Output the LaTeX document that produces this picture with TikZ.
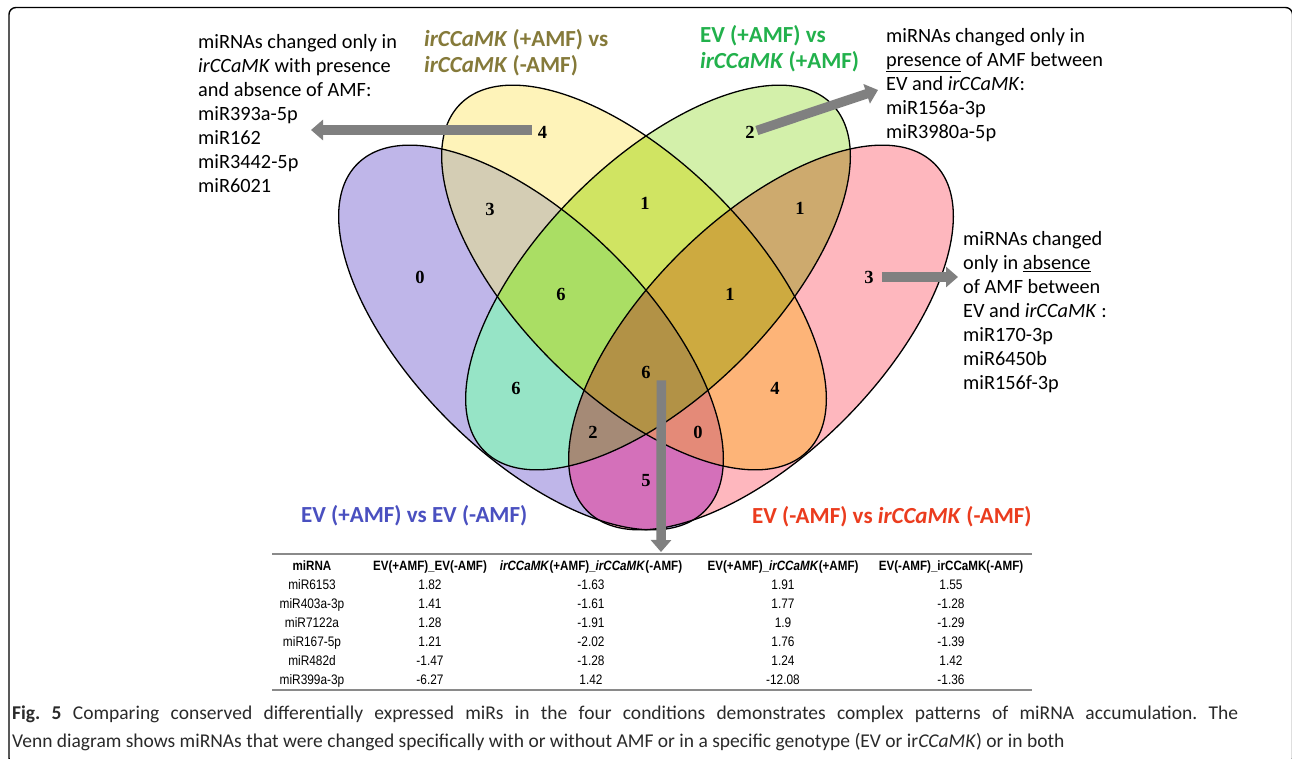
\documentclass[tikz,border=0pt]{standalone}
\usepackage{fontspec}
\setmainfont{Carlito}
\newfontfamily\numfont{Liberation Serif}
\newfontfamily\tabfont[FakeStretch=0.86]{Liberation Sans}
\usetikzlibrary{arrows.meta}
\frenchspacing
\definecolor{cA}{HTML}{BFB6E9}
\definecolor{cB}{HTML}{FEF3B9}
\definecolor{cC}{HTML}{D3F0AA}
\definecolor{cD}{HTML}{FEB7BE}
\definecolor{cAB}{HTML}{D4CDB4}
\definecolor{cAC}{HTML}{96E4C6}
\definecolor{cAD}{HTML}{D470BA}
\definecolor{cBC}{HTML}{D0E462}
\definecolor{cBD}{HTML}{FDB478}
\definecolor{cCD}{HTML}{CDAA6E}
\definecolor{cABC}{HTML}{AADE64}
\definecolor{cABD}{HTML}{E48A78}
\definecolor{cACD}{HTML}{A58A76}
\definecolor{cBCD}{HTML}{CDAA40}
\definecolor{cABCD}{HTML}{B29246}
\definecolor{agray}{HTML}{808080}
\definecolor{labOlive}{HTML}{857A3A}
\definecolor{labGreen}{HTML}{22B14C}
\definecolor{labBlue}{HTML}{4A50C0}
\definecolor{labRed}{HTML}{EB3C1E}
\definecolor{rulegray}{HTML}{8A8A8A}
\definecolor{capgray}{HTML}{2A2A2A}
\def\elA{(531,337.5) ellipse [x radius=245.5, y radius=117, rotate=-45]}
\def\elB{(634,277.5) ellipse [x radius=245.5, y radius=117, rotate=-45]}
\def\elC{(658,277.5) ellipse [x radius=245.5, y radius=117, rotate=45]}
\def\elD{(761,337.5) ellipse [x radius=245.5, y radius=117, rotate=45]}
\tikzset{
 num/.style={font=\numfont\bfseries\fontsize{18.5}{18.5}\selectfont, inner sep=0pt},
 bodytxt/.style={font=\fontsize{20.3}{24}\selectfont, inner sep=0pt, anchor=base west},
 labtxt/.style={font=\bfseries\fontsize{23}{27}\selectfont, inner sep=0pt, anchor=base west},
 garrow/.style={draw=agray, line width=9.5pt, -{Triangle[length=12pt,width=20pt]}},
 tabh/.style={font=\tabfont\bfseries\fontsize{13.5}{16}\selectfont, inner sep=0pt, anchor=base},
 tabd/.style={font=\tabfont\fontsize{13.8}{16}\selectfont, inner sep=0pt, anchor=base},
 captext/.style={font=\fontsize{19.5}{28}\selectfont, inner sep=0pt, anchor=base west, text=capgray},
 venn/.style={draw=black, line width=1.3pt},
 tabrule/.style={draw=rulegray, line width=1.5pt},
}
\begin{document}
\begin{tikzpicture}[x=1pt,y=-1pt]
\useasboundingbox (0,0) rectangle (1292,759);
\fill[white] (0,0) rectangle (1292,759);
% frame
\begin{scope}
\clip (0,0) rectangle (1292,759);
\draw[line width=1.4pt, rounded corners=7pt] (9,7.5) rectangle (1292.5,765);
\end{scope}
% Venn regions
\fill[cA] \elA; \fill[cB] \elB; \fill[cC] \elC; \fill[cD] \elD;
\begin{scope}\clip \elA; \fill[cAB] \elB; \end{scope}
\begin{scope}\clip \elA; \fill[cAC] \elC; \end{scope}
\begin{scope}\clip \elA; \fill[cAD] \elD; \end{scope}
\begin{scope}\clip \elB; \fill[cBC] \elC; \end{scope}
\begin{scope}\clip \elB; \fill[cBD] \elD; \end{scope}
\begin{scope}\clip \elC; \fill[cCD] \elD; \end{scope}
\begin{scope}\clip \elA; \clip \elB; \fill[cABC] \elC; \end{scope}
\begin{scope}\clip \elA; \clip \elB; \fill[cABD] \elD; \end{scope}
\begin{scope}\clip \elA; \clip \elC; \fill[cACD] \elD; \end{scope}
\begin{scope}\clip \elB; \clip \elC; \fill[cBCD] \elD; \end{scope}
\begin{scope}\clip \elA; \clip \elB; \clip \elC; \fill[cABCD] \elD; \end{scope}
\draw[venn] \elA; \draw[venn] \elB; \draw[venn] \elC; \draw[venn] \elD;
% region counts
\node[num] (n4)   at (542.5,132.5) {4};
\node[num] (n2)   at (750,132.5) {2};
\node[num] (n3l)  at (490,209) {3};
\node[num] (n1t)  at (645,203) {1};
\node[num] (n1r)  at (800,208) {1};
\node[num] (n0l)  at (420,277) {0};
\node[num] (n6l)  at (561,294) {6};
\node[num] (n1c)  at (730,294) {1};
\node[num] (n3r)  at (869,277) {3};
\node[num] (n6ll) at (516,388) {6};
\node[num] (n6c)  at (646,372) {6};
\node[num] (n4r)  at (775,388) {4};
\node[num] (n2b)  at (593,432) {2};
\node[num] (n0b)  at (698,432) {0};
\node[num] (n5)   at (646,481) {5};
% set labels
\node[labtxt, text=labOlive] (lb1) at (424,46.5) {\textit{irCCaMK} (+AMF) vs};
\node[labtxt, text=labOlive] (lb2) at (424,73) {\textit{irCCaMK} (-AMF)};
\node[labtxt, text=labGreen] (lc1) at (700,42.5) {EV (+AMF) vs};
\node[labtxt, text=labGreen] (lc2) at (700,69) {\textit{irCCaMK} (+AMF)};
\node[labtxt, text=labBlue] (la) at (301,522) {EV (+AMF) vs EV (-AMF)};
\node[labtxt, text=labRed] (ld) at (752,523) {EV (-AMF) vs \textit{irCCaMK} (-AMF)};
% side texts
\node[bodytxt] (tl1) at (198,49) {miRNAs changed only in};
\node[bodytxt] (tl2) at (198,73) {\textit{irCCaMK} with presence};
\node[bodytxt] (tl3) at (198,97) {and absence of AMF:};
\node[bodytxt] (tl4) at (198,121) {miR393a-5p};
\node[bodytxt] (tl5) at (198,145) {miR162};
\node[bodytxt] (tl6) at (198,169) {miR3442-5p};
\node[bodytxt] (tl7) at (198,193) {miR6021};
\node[bodytxt] (tr1) at (886,43) {miRNAs changed only in};
\node[bodytxt] (tr2) at (886,66.8) {\underline{presence} of AMF between};
\node[bodytxt] (tr3) at (886,90.6) {EV and \textit{irCCaMK}:};
\node[bodytxt] (tr4) at (886,114.4) {miR156a-3p};
\node[bodytxt] (tr5) at (886,138.2) {miR3980a-5p};
\node[bodytxt] (rt1) at (963,246) {miRNAs changed};
\node[bodytxt] (rt2) at (963,269.9) {only in \underline{absence}};
\node[bodytxt] (rt3) at (963,293.8) {of AMF between};
\node[bodytxt] (rt4) at (963,317.7) {EV and \textit{irCCaMK} :};
\node[bodytxt] (rt5) at (963,341.6) {miR170-3p};
\node[bodytxt] (rt6) at (963,365.5) {miR6450b};
\node[bodytxt] (rt7) at (963,389.4) {miR156f-3p};
% arrows
\coordinate (tipL) at (311,130);
\coordinate (tipR) at (878,90);
\coordinate (tipA) at (958,277);
\coordinate (tipD) at (661,552);
\draw[garrow] ([xshift=-6pt,yshift=2.5pt]n4.west) -- (tipL);
\draw[garrow] ([xshift=2pt,yshift=2pt]n2.east) -- (tipR);
\draw[garrow] ([xshift=8pt]n3r.east) -- (tipA);
\draw[garrow] ([xshift=10.5pt,yshift=-2pt]n6c.south east) -- (tipD);
% table
\draw[tabrule] (272,554) -- (1032,554);
\draw[tabrule] (272,690) -- (1032,690);
\node[tabh] (h1) at (312,570) {miRNA};
\node[tabh] (h2) at (430,570) {EV(+AMF)\_EV(-AMF)};
\node[tabh] (h3) at (591,570) {\textit{irCCaMK}(+AMF)\_\textit{irCCaMK}(-AMF)};
\node[tabh] (h4) at (783,570) {EV(+AMF)\_\textit{irCCaMK}(+AMF)};
\node[tabh] (h5) at (951,570) {EV(-AMF)\_irCCaMK(-AMF)};
\foreach \m/\a/\b/\c/\d [count=\r from 0] in
 {miR6153/1.82/-1.63/1.91/1.55,
  miR403a-3p/1.41/-1.61/1.77/-1.28,
  miR7122a/1.28/-1.91/1.9/-1.29,
  miR167-5p/1.21/-2.02/1.76/-1.39,
  miR482d/-1.47/-1.28/1.24/1.42,
  miR399a-3p/-6.27/1.42/-12.08/-1.36}{
  \node[tabd] (r\r c1) at (312,{589+19*\r}) {\m};
  \node[tabd] (r\r c2) at (430,{589+19*\r}) {\a};
  \node[tabd] (r\r c3) at (591,{589+19*\r}) {\b};
  \node[tabd] (r\r c4) at (783,{589+19*\r}) {\c};
  \node[tabd] (r\r c5) at (951,{589+19*\r}) {\d};
}
% caption
\node[captext] (cap1) at (12,719) {\makebox[1226pt][s]{\textbf{Fig. 5} Comparing conserved differentially expressed miRs in the four conditions demonstrates complex patterns of miRNA accumulation. The}};
\node[captext] (cap2) at (12,747) {Venn diagram shows miRNAs that were changed specifically with or without AMF or in a specific genotype (EV or ir\textit{CCaMK}) or in both};
\end{tikzpicture}
\end{document}
